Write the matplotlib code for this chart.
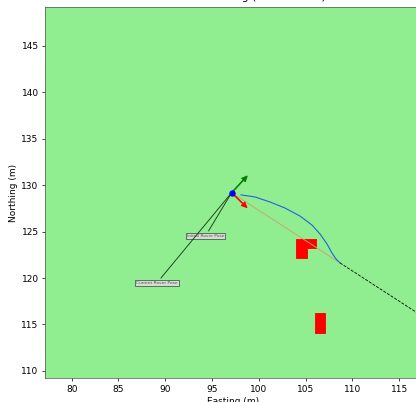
import matplotlib
matplotlib.use("Agg")
import matplotlib.pyplot as plt
from matplotlib.patches import Rectangle

# rover pose and heading / steering arrow tips
rover_x, rover_y = 97.09, 129.19
heading_tip = (98.76, 130.99)
steer_tip = (98.73, 127.58)

# driven path so far
path_x = [98.09, 99.58, 101.19, 102.79, 104.39, 105.67, 106.53, 107.28, 107.81, 108.24, 108.67]
path_y = [128.95, 128.73, 128.19, 127.54, 126.68, 125.71, 124.75, 123.67, 122.70, 122.06, 121.63]

# straight reference line and the remaining planned segment
ref_x = [97.09, 108.67]
ref_y = [129.19, 121.63]
plan_x = [108.67, 118.0]
plan_y = [121.63, 115.55]

# obstacle cells: (x0, y0, width, height)
obstacles = [(104.0, 123.2, 2.1, 1.0),
             (104.0, 122.2, 1.1, 1.0),
             (106.0, 114.05, 1.1, 2.15)]

# label positions for the pose annotations
initial_label = (94.3, 124.53)
current_label = (89.1, 119.47)

fig = plt.figure(figsize=(416 / 65, 402 / 65), dpi=65)
ax = fig.add_axes([0.1082, 0.059, 0.9062, 0.9243])
ax.set_facecolor("lightgreen")

for x0, y0, w, h in obstacles:
    ax.add_patch(Rectangle((x0, y0), w, h, color="red", zorder=2))

ax.plot(ref_x, ref_y, color="#d2a070", lw=1.0, zorder=3)
ax.plot(plan_x, plan_y, "k--", lw=0.9, zorder=3)
ax.plot(path_x, path_y, color="#1f5fe0", lw=1.2, zorder=4)

ax.arrow(rover_x, rover_y, heading_tip[0] - rover_x, heading_tip[1] - rover_y,
         width=0.06, head_width=0.55, head_length=0.6, length_includes_head=True,
         color="green", zorder=5)
ax.arrow(rover_x, rover_y, steer_tip[0] - rover_x, steer_tip[1] - rover_y,
         width=0.06, head_width=0.55, head_length=0.6, length_includes_head=True,
         color="red", zorder=5)
ax.plot(rover_x, rover_y, "bo", markersize=6, zorder=6)

box = dict(boxstyle="square,pad=0.25", fc="#dcdcdc", ec="#333333", lw=0.8, alpha=0.9)
ax.annotate("Initial Rover Pose", xy=(rover_x, rover_y), xytext=initial_label,
            fontsize=4.8, color="#555555", ha="center", va="center", bbox=box,
            arrowprops=dict(arrowstyle="-", color="#1a3a1a", lw=1.0), zorder=5)
ax.annotate("Current Rover Pose", xy=(rover_x, rover_y), xytext=current_label,
            fontsize=4.8, color="#555555", ha="center", va="center", bbox=box,
            arrowprops=dict(arrowstyle="-", color="#1a3a1a", lw=1.0), zorder=5)

ax.set_xlim(77.15, 117.43)
ax.set_ylim(109.21, 149.21)
ax.set_xticks([80, 85, 90, 95, 100, 105, 110, 115])
ax.set_yticks([110, 115, 120, 125, 130, 135, 140, 145])
ax.set_xlabel("Easting (m)")
ax.set_ylabel("Northing (m)")
ax.set_title("Rover Path Tracking (Pure Pursuit)", pad=7)
for s in ax.spines.values():
    s.set_color("#555555")

fig.savefig("out.png", dpi=65)
